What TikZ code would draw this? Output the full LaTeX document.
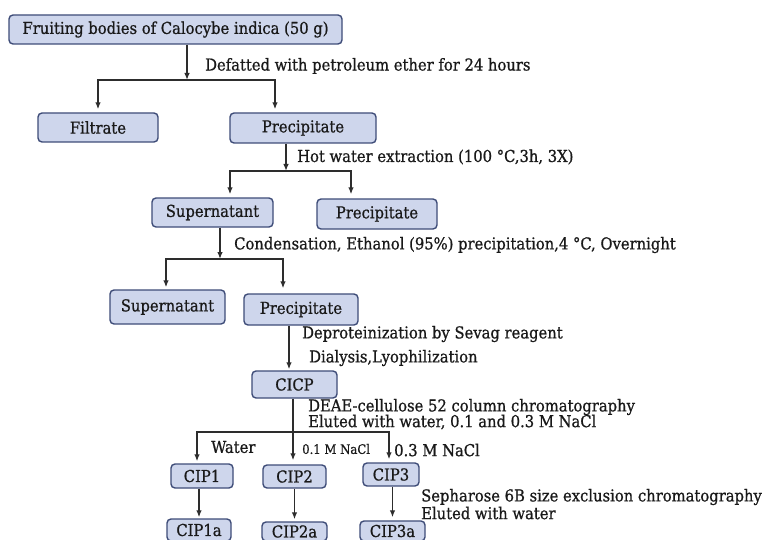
\documentclass[tikz,border=0pt]{standalone}
\usepackage{fontspec}
\setmainfont{DejaVu Serif Condensed}[FakeBold=0.8]
\usetikzlibrary{arrows.meta}
\definecolor{boxfill}{RGB}{206,214,236}
\definecolor{boxline}{RGB}{62,76,120}
\definecolor{linkcol}{RGB}{45,45,45}
\begin{document}
\begin{tikzpicture}[x=1pt, y=-1pt, font=\fontsize{16.4}{17}\selectfont, >={Latex[length=7pt,width=5.5pt]},
    box/.style={draw=boxline, fill=boxfill, line width=1.4pt, rounded corners=4pt, inner sep=0pt, text=black!90},
    lnk/.style={draw=linkcol, line width=1.3pt},
    lbl/.style={anchor=west, inner sep=0pt, text=black!90}]
  \useasboundingbox (0,0) rectangle (765,540);
  \clip (0,0) rectangle (765,540);
  % boxes
  \node[box, minimum width=333pt, minimum height=29pt] (top) at (175.5,29.5) {Fruiting bodies of Calocybe indica (50 g)};
  \node[box, minimum width=120pt, minimum height=29pt] (filt) at (98,127.5) {Filtrate};
  \node[box, minimum width=146pt, minimum height=30pt] (prec1) at (303,128) {Precipitate};
  \node[box, minimum width=121pt, minimum height=29pt] (sup2) at (212.5,212.5) {Supernatant};
  \node[box, minimum width=120pt, minimum height=30pt] (prec2) at (377,214) {Precipitate};
  \node[box, minimum width=115pt, minimum height=34pt] (sup3) at (167.5,307) {Supernatant};
  \node[box, minimum width=114pt, minimum height=31pt] (prec3) at (301,309.5) {Precipitate};
  \node[box, minimum width=85pt, minimum height=27pt] (cicp) at (294.5,384.5) {CICP};
  \node[box, minimum width=62pt, minimum height=24pt] (cip1) at (202,476) {CIP1};
  \node[box, minimum width=63pt, minimum height=23pt] (cip2) at (294.5,476.5) {CIP2};
  \node[box, minimum width=56pt, minimum height=23pt] (cip3) at (391,474.5) {CIP3};
  \node[box, minimum width=64pt, minimum height=22pt] (cip1a) at (199,530) {CIP1a};
  \node[box, minimum width=65pt, minimum height=19pt] (cip2a) at (294.5,531.5) {CIP2a};
  \node[box, minimum width=65pt, minimum height=20pt] (cip3a) at (392.5,531) {CIP3a};
  % step labels
  \node[lbl] (defat) at (205,66) {Defatted with petroleum ether for 24 hours};
  \node[lbl] (hotw) at (297,157) {Hot water extraction (100 °C,3h, 3X)};
  \node[lbl] (cond) at (234,245) {Condensation, Ethanol (95\%) precipitation,4 °C, Overnight};
  \node[lbl] (sevag) at (302,334) {Deproteinization by Sevag reagent};
  \node[lbl] (dialy) at (309,358) {Dialysis,Lyophilization};
  \node[lbl] (deae) at (308,407) {DEAE-cellulose 52 column chromatography};
  \node[lbl] (elut1) at (308,422) {Eluted with water, 0.1 and 0.3 M NaCl};
  \node[lbl] (water) at (211,447) {Water};
  \node[lbl, font=\fontsize{13}{14}\selectfont] (nacla) at (302,449) {0.1 M NaCl};
  \node[lbl] (naclb) at (394,450) {0.3 M NaCl};
  \node[lbl] (seph) at (421,497) {Sepharose 6B size exclusion chromatography};
  \node[lbl] (elut2) at (421,513) {Eluted with water};
  % junctions
  \coordinate (j1) at (187,80);
  \coordinate (r1) at (275,80);
  \coordinate (j2) at (286,171);
  \coordinate (l2) at (230,171);
  \coordinate (r2) at (351,171);
  \coordinate (j3) at (220,259);
  \coordinate (l3) at (166,259);
  \coordinate (r3) at (283,259);
  \coordinate (v3) at (289,347);
  \coordinate (m4) at (293,432);
  \coordinate (l4) at (197,432);
  \coordinate (r4) at (389,432);
  % connectors
  \draw[lnk, ->] (top.south -| j1) -- (j1);
  \draw[lnk, <->, shorten <=3pt, shorten >=3pt] (filt.north) |- (r1) -- (prec1.north -| r1);
  \draw[lnk, ->] (prec1.south -| j2) -- (j2);
  \draw[lnk, <->, shorten <=3pt, shorten >=4pt] (sup2.north -| l2) -- (l2) -- (r2) -- (prec2.north -| r2);
  \draw[lnk, ->] (sup2.south -| j3) -- (j3);
  \draw[lnk, <->, shorten <=2pt, shorten >=5pt] (sup3.north -| l3) -- (l3) -- (r3) -- (prec3.north -| r3);
  \draw[lnk, ->, shorten >=1pt] (prec3.south -| v3) -- (cicp.north -| v3);
  \draw[lnk, ->, shorten >=4pt] (cicp.south -| m4) -- (cip2.north -| m4);
  \draw[lnk, <->, shorten <=2pt, shorten >=3pt] (cip1.north -| l4) -- (l4) -- (r4) -- (cip3.north -| r4);
  \draw[lnk, ->, shorten >=1pt] (cip1.south -| cip1a.north) -- (cip1a.north);
  \draw[lnk, ->, shorten >=2pt] (cip2.south -| cip2a.north) -- (cip2a.north);
  \draw[lnk, ->, shorten >=3pt] (cip3.south -| cip3a.north) -- (cip3a.north);
\end{tikzpicture}
\end{document}
